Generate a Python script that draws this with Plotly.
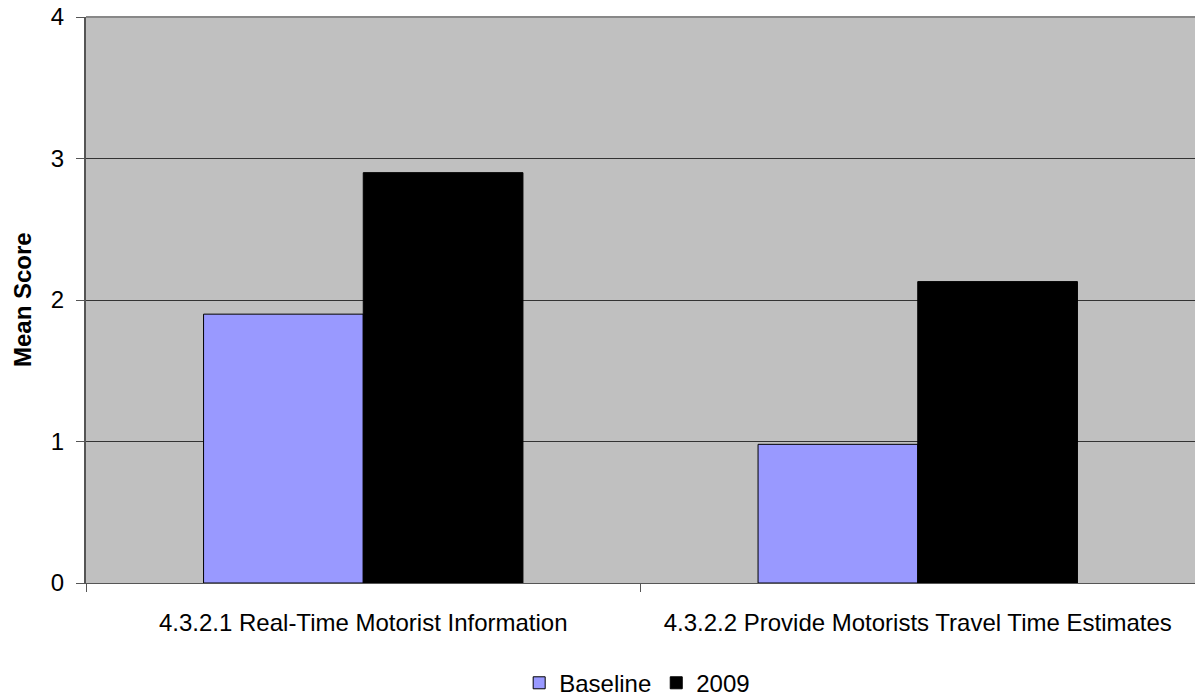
import plotly.graph_objects as go

categories = ["4.3.2.1 Real-Time Motorist Information", "4.3.2.2 Provide Motorists Travel Time Estimates"]
baseline = [1.90, 0.98]
y2009 = [2.90, 2.13]
yticks = [0, 1, 2, 3, 4]

fig = go.Figure()
fig.add_trace(go.Bar(x=categories, y=baseline, name="Baseline",
                     marker=dict(color="#9999FF", line=dict(color="#000000", width=1))))
fig.add_trace(go.Bar(x=categories, y=y2009, name="2009",
                     marker=dict(color="#000000", line=dict(color="#000000", width=1))))

fig.update_layout(
    width=1195, height=696,
    margin=dict(l=86, r=0, t=17, b=113, autoexpand=False),
    paper_bgcolor="white", plot_bgcolor="#C0C0C0",
    barmode="group", bargap=0.424, bargroupgap=0,
    font=dict(family="Liberation Sans, Arial, sans-serif", size=24, color="black"),
    legend=dict(orientation="h", x=0.497, xanchor="center", y=-0.177, yanchor="middle",
                font=dict(size=24), traceorder="normal", itemwidth=30),
    showlegend=True,
)
fig.update_xaxes(showline=True, linecolor="#555555", linewidth=1, automargin=False,
                 ticks="outside", tickson="boundaries", ticklen=8, tickcolor="#555555",
                 showgrid=False, tickfont=dict(size=24), ticklabelstandoff=18)
fig.update_yaxes(range=[0, 4], tickvals=yticks, showline=True, linecolor="#555555", linewidth=2,
                 automargin=False, ticks="outside", ticklen=8, tickcolor="#555555",
                 showgrid=True, gridcolor="#333333", gridwidth=1, zeroline=False,
                 tickfont=dict(size=24), ticklabelstandoff=7, ticklabeloverflow="allow")
fig.add_annotation(text="<b>Mean Score</b>", xref="paper", yref="paper", x=0, y=0.5,
                   xshift=-64, textangle=-90, showarrow=False, xanchor="center", yanchor="middle",
                   font=dict(size=24))
fig.add_shape(type="line", xref="paper", yref="paper", x0=0, x1=1, y0=1, y1=1,
              line=dict(color="#888888", width=2))
fig.write_html("out.html", config={"displayModeBar": False},
               post_script="document.body.style.margin='0';")
